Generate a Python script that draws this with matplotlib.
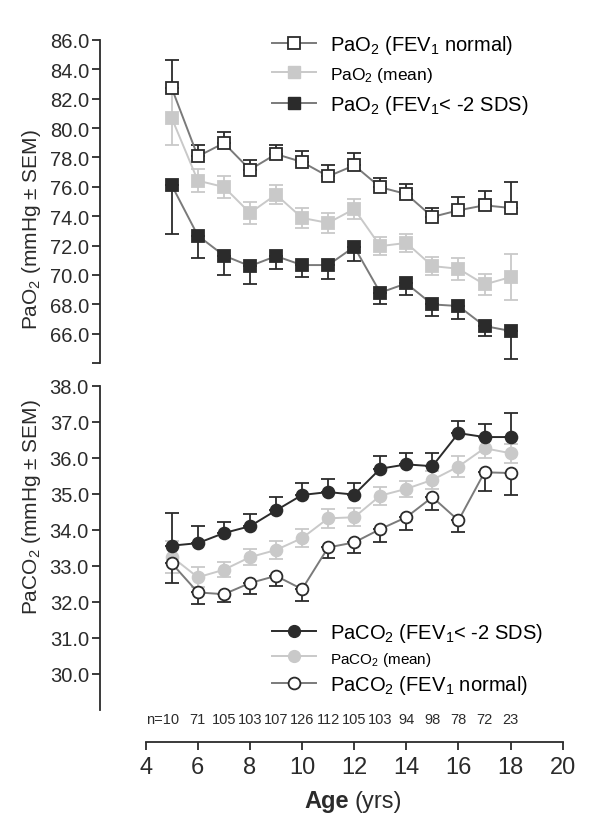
import matplotlib
matplotlib.use("Agg")
from matplotlib import pyplot as plt
from matplotlib.lines import Line2D

plt.rcParams['font.family'] = ['Liberation Sans', 'DejaVu Sans']
plt.rcParams['mathtext.fontset'] = 'custom'
plt.rcParams['mathtext.rm'] = 'Liberation Sans'
plt.rcParams['mathtext.it'] = 'Liberation Sans:italic'

# ---- data ----
ages = [5, 6, 7, 8, 9, 10, 11, 12, 13, 14, 15, 16, 17, 18]
n_counts = [10, 71, 105, 103, 107, 126, 112, 105, 103, 94, 98, 78, 72, 23]

pao2_normal = [82.72, 78.07, 78.98, 77.17, 78.23, 77.69, 76.71, 77.46, 75.97, 75.51, 73.95, 74.40, 74.74, 74.56]
pao2_normal_sem = [1.92, 0.77, 0.72, 0.63, 0.61, 0.77, 0.79, 0.82, 0.63, 0.68, 0.61, 0.90, 1.00, 1.79]
pao2_mean = [80.68, 76.42, 75.99, 74.22, 75.47, 73.88, 73.54, 74.49, 71.96, 72.18, 70.60, 70.42, 69.35, 69.85]
pao2_mean_sem = [1.81, 0.78, 0.78, 0.75, 0.66, 0.68, 0.68, 0.70, 0.63, 0.63, 0.63, 0.74, 0.72, 1.57]
pao2_low = [76.10, 72.68, 71.32, 70.60, 71.28, 70.67, 70.67, 71.91, 68.79, 69.42, 67.99, 67.88, 66.52, 66.18]
pao2_low_sem = [3.30, 1.56, 1.33, 1.25, 0.91, 0.82, 0.93, 0.93, 0.80, 0.82, 0.79, 0.86, 0.68, 1.88]

paco2_low = [33.56, 33.63, 33.91, 34.10, 34.54, 34.97, 35.05, 34.98, 35.70, 35.82, 35.77, 36.69, 36.58, 36.58]
paco2_low_sem = [0.90, 0.49, 0.32, 0.34, 0.37, 0.33, 0.37, 0.33, 0.35, 0.31, 0.36, 0.34, 0.37, 0.68]
paco2_mean = [33.25, 32.68, 32.89, 33.24, 33.44, 33.77, 34.32, 34.35, 34.95, 35.14, 35.39, 35.76, 36.27, 36.13]
paco2_mean_sem = [0.45, 0.28, 0.21, 0.23, 0.25, 0.26, 0.26, 0.25, 0.25, 0.23, 0.25, 0.28, 0.28, 0.27]
paco2_normal = [33.07, 32.26, 32.21, 32.52, 32.72, 32.35, 33.51, 33.65, 34.02, 34.35, 34.91, 34.26, 35.60, 35.58]
paco2_normal_sem = [0.56, 0.32, 0.23, 0.31, 0.27, 0.32, 0.30, 0.30, 0.37, 0.35, 0.36, 0.31, 0.51, 0.61]

DARK = "#2b2b2b"
MID = "#7a7a7a"
LIGHT = "#c9c9c9"

W, H = 600, 829


def rect(left, top, right, bottom):
    return [left / W, 1 - bottom / H, (right - left) / W, (bottom - top) / H]


def series(ax, y, err, marker, face, edge, line, uplims=False, both=False, ecolor=None, z=3):
    ecolor = ecolor or edge
    if both:
        yerr = [err, err]
    elif uplims:
        yerr = [[0] * len(err), err]
    else:
        yerr = [err, [0] * len(err)]
    ax.errorbar(ages, y, yerr=yerr, fmt="none", ecolor=ecolor, elinewidth=1.3,
                capsize=5, capthick=1.3, zorder=z, clip_on=False)
    ax.plot(ages, y, color=line, lw=1.4, zorder=z, clip_on=False)
    ax.plot(ages, y, ls="none", marker=marker, ms=9 if marker == "s" else 8.5,
            mfc=face, mec=edge, mew=1.3, zorder=z + 0.5, clip_on=False)


fig = plt.figure(figsize=(6, 8.29), dpi=100)

# ---- PaO2 panel ----
ax1 = fig.add_axes(rect(100, 41, 562.7, 364))
ax1.set_xlim(2.246, 20)
ax1.set_ylim(64, 86)
for s in ["top", "right", "bottom"]:
    ax1.spines[s].set_visible(False)
ax1.spines["left"].set_color(DARK)
ax1.spines["left"].set_linewidth(1.3)
ax1.set_xticks([])
ax1.set_yticks(range(64, 87, 2))
ax1.set_yticklabels([""] + ["%.1f" % v for v in range(66, 87, 2)], fontsize=14.5, color=DARK)
ax1.tick_params(axis="y", length=6, width=1.3, color=DARK, pad=2)
ax1.patch.set_alpha(0)

series(ax1, pao2_mean, pao2_mean_sem, "s", LIGHT, LIGHT, LIGHT, both=True, z=2)
series(ax1, pao2_normal, pao2_normal_sem, "s", "white", DARK, MID, uplims=True, ecolor=DARK, z=3)
series(ax1, pao2_low, pao2_low_sem, "s", DARK, DARK, MID, z=4)

h1 = [
    Line2D([], [], color=MID, lw=1.4, marker="s", ms=9, mfc="white", mec=DARK, mew=1.3),
    Line2D([], [], color=LIGHT, lw=1.4, marker="s", ms=9, mfc=LIGHT, mec=LIGHT),
    Line2D([], [], color=MID, lw=1.4, marker="s", ms=9, mfc=DARK, mec=DARK),
]
l1 = [r"PaO$_2$ (FEV$_1$ normal)", r"PaO$_2$ (mean)", r"PaO$_2$ (FEV$_1$< -2 SDS)"]
leg1 = fig.legend(h1, l1, loc="upper left", bbox_to_anchor=(262 / W, 1 - 24 / H),
                  frameon=False, fontsize=14.5, handlelength=2.2, handletextpad=0.7,
                  labelspacing=0.45, borderpad=0)
leg1.get_texts()[1].set_fontsize(12.5)

# ---- PaCO2 panel ----
ax2 = fig.add_axes(rect(100, 387, 562.7, 743))
ax2.set_xlim(2.246, 20)
ax2.set_ylim(28.1, 38)
for s in ["top", "right"]:
    ax2.spines[s].set_visible(False)
ax2.spines["left"].set_bounds(29.0, 38)
ax2.spines["bottom"].set_bounds(4, 20)
for s in ["left", "bottom"]:
    ax2.spines[s].set_color(DARK)
    ax2.spines[s].set_linewidth(1.3)
ax2.set_yticks(range(30, 39))
ax2.set_yticklabels(["%.1f" % v for v in range(30, 39)], fontsize=14.5, color=DARK)
ax2.set_xticks(range(4, 21, 2))
ax2.set_xticklabels([str(v) for v in range(4, 21, 2)], fontsize=17, color=DARK)
ax2.tick_params(axis="both", length=6, width=1.3, color=DARK, pad=2)
ax2.tick_params(axis="x", pad=4)
ax2.patch.set_alpha(0)

series(ax2, paco2_mean, paco2_mean_sem, "o", LIGHT, LIGHT, LIGHT, both=True, z=2)
series(ax2, paco2_normal, paco2_normal_sem, "o", "white", DARK, MID, z=3)
series(ax2, paco2_low, paco2_low_sem, "o", DARK, DARK, DARK, uplims=True, z=4)

h2 = [
    Line2D([], [], color=DARK, lw=1.4, marker="o", ms=8.5, mfc=DARK, mec=DARK),
    Line2D([], [], color=LIGHT, lw=1.4, marker="o", ms=8.5, mfc=LIGHT, mec=LIGHT),
    Line2D([], [], color=MID, lw=1.4, marker="o", ms=8.5, mfc="white", mec=DARK, mew=1.3),
]
l2 = [r"PaCO$_2$ (FEV$_1$< -2 SDS)", r"PaCO$_2$ (mean)", r"PaCO$_2$ (FEV$_1$ normal)"]
leg2 = fig.legend(h2, l2, loc="upper left", bbox_to_anchor=(262 / W, 1 - 612 / H),
                  frameon=False, fontsize=14.5, handlelength=2.2, handletextpad=0.7,
                  labelspacing=0.25, borderpad=0)
leg2.get_texts()[1].set_fontsize(11)

# n per age
n_y = 28.74
for a, n in zip(ages[1:], n_counts[1:]):
    ax2.text(a, n_y, str(n), ha="center", va="center", fontsize=10.5, color=DARK)
ax2.annotate("n=%d" % n_counts[0], xy=(ages[0], n_y), xytext=(5.5, 0), textcoords="offset points",
             ha="right", va="center", fontsize=10.5, color=DARK)

# axis titles
fig.text(32 / W, 1 - 230 / H, r"PaO$_2$ (mmHg ± SEM)", rotation=90, ha="center", va="center",
         fontsize=15, color=DARK)
fig.text(32 / W, 1 - 507 / H, r"PaCO$_2$ (mmHg ± SEM)", rotation=90, ha="center", va="center",
         fontsize=15, color=DARK)
fig.text(349 / W, 1 - 802 / H, "Age", ha="right", va="center", fontsize=17,
         fontweight="bold", color=DARK)
fig.text(354 / W, 1 - 802 / H, "(yrs)", ha="left", va="center", fontsize=17, color=DARK)

fig.savefig("out.png", dpi=100)
